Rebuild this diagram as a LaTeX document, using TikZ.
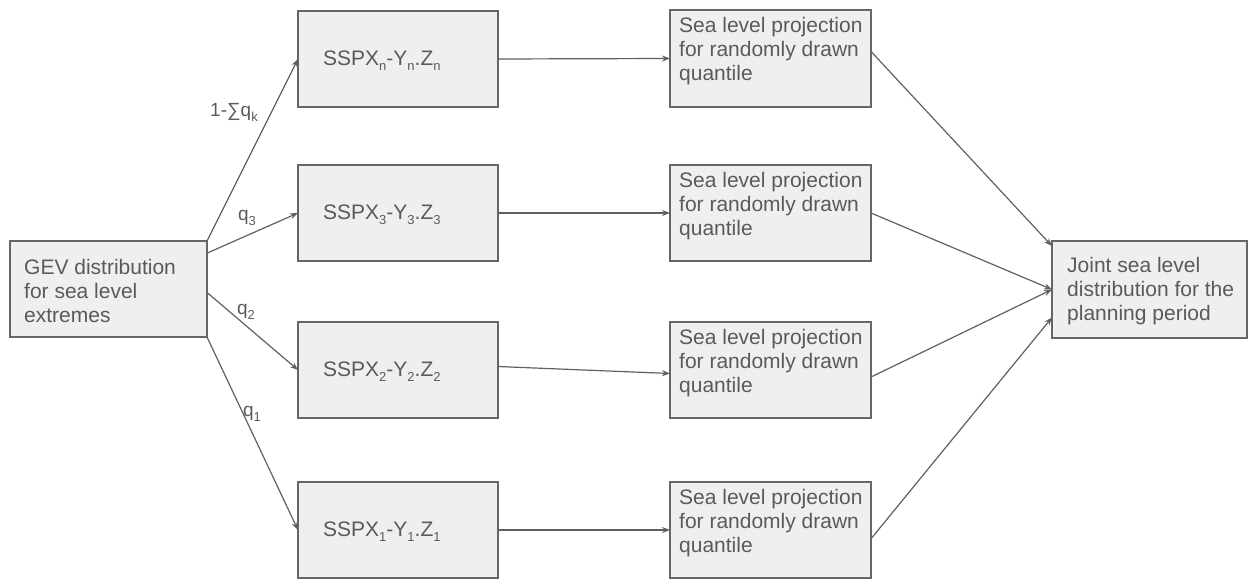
\documentclass[tikz,border=0pt]{standalone}
\usepackage{fontspec}
\setmainfont{Liberation Sans}
\usetikzlibrary{arrows.meta,calc}
\definecolor{boxfill}{HTML}{EFEFEF}
\definecolor{boxline}{HTML}{666666}
\definecolor{txt}{HTML}{5A5A5A}
\definecolor{conncol}{HTML}{606060}
\newcommand\mysub[1]{\raisebox{-5pt}{\fontsize{13}{13}\selectfont #1}}
\begin{document}
\begin{tikzpicture}[x=1pt,y=-1pt,
  box/.style={draw=boxline, line width=1.2pt, fill=boxfill, rectangle, inner sep=0pt, outer sep=0pt},
  txtnode/.style={text=txt, font=\fontsize{21}{24}\selectfont, align=left, inner sep=0pt, anchor=west},
  lbl/.style={text=txt, font=\fontsize{19}{22}\selectfont, inner sep=0pt},
  conn/.style={draw=conncol, line width=1.2pt, -{Stealth[length=8pt,width=6pt]}}]
\useasboundingbox (0,0) rectangle (1248,580);
% boxes
\node[box, minimum width=197pt, minimum height=96pt] (gev) at (108.5,289) {};
\node[box, minimum width=200pt, minimum height=96pt] (s4) at (398,59) {};
\node[box, minimum width=200pt, minimum height=96pt] (s3) at (398,213) {};
\node[box, minimum width=200pt, minimum height=96pt] (s2) at (398,370) {};
\node[box, minimum width=200pt, minimum height=96pt] (s1) at (398,530) {};
\node[box, minimum width=201pt, minimum height=97pt] (sl4) at (770.5,58.5) {};
\node[box, minimum width=201pt, minimum height=96pt] (sl3) at (770.5,213) {};
\node[box, minimum width=201pt, minimum height=96pt] (sl2) at (770.5,370) {};
\node[box, minimum width=201pt, minimum height=96pt] (sl1) at (770.5,530) {};
\node[box, minimum width=195pt, minimum height=97pt] (joint) at (1149.5,289.5) {};
% texts
\node[txtnode] (gevt) at ($(gev.west)+(14,1.5)$) {GEV distribution\\for sea level\\extremes};
\node[txtnode] (s4t) at ($(s4.west)+(25,2)$) {SSPX\mysub{n}-Y\mysub{n}.Z\mysub{n}};
\node[txtnode] (s3t) at ($(s3.west)+(25,2)$) {SSPX\mysub{3}-Y\mysub{3}.Z\mysub{3}};
\node[txtnode] (s2t) at ($(s2.west)+(25,2)$) {SSPX\mysub{2}-Y\mysub{2}.Z\mysub{2}};
\node[txtnode] (s1t) at ($(s1.west)+(25,2)$) {SSPX\mysub{1}-Y\mysub{1}.Z\mysub{1}};
\node[txtnode] (sl4t) at ($(sl4.west)+(9,-7)$) {Sea level projection\\for randomly drawn\\quantile};
\node[txtnode] (sl3t) at ($(sl3.west)+(9,-7)$) {Sea level projection\\for randomly drawn\\quantile};
\node[txtnode] (sl2t) at ($(sl2.west)+(9,-7)$) {Sea level projection\\for randomly drawn\\quantile};
\node[txtnode] (sl1t) at ($(sl1.west)+(9,-7)$) {Sea level projection\\for randomly drawn\\quantile};
\node[txtnode] (jointt) at ($(joint.west)+(15,2)$) {Joint sea level\\distribution for the\\planning period};
% connectors
\draw[conn] (gev.north east) -- (s4.west);
\draw[conn] (gev.20) -- (s3.west);
\draw[conn] (gev.-2.3) -- (s2.west);
\draw[conn] (gev.south east) -- (s1.west);
\draw[conn] (s4.east) -- (sl4.west);
\draw[conn] (s3.east) -- (sl3.west);
\draw[conn] (s2.2) -- (sl2.182.8);
\draw[conn] (s1.east) -- (sl1.west);
\draw[conn] (sl4.4.8) -- (joint.156.9);
\draw[conn] (sl3.east) -- (joint.west);
\draw[conn] (sl2.-4) -- (joint.west);
\draw[conn] (sl1.-5.7) -- (joint.196.3);
% labels
\node[lbl] (lk) at (234,112) {1-∑q\mysub{k}};
\node[lbl] (l3) at (247,218) {q\mysub{3}};
\node[lbl] (l2) at (246,312) {q\mysub{2}};
\node[lbl] (l1) at (252,414) {q\mysub{1}};
\end{tikzpicture}
\end{document}
